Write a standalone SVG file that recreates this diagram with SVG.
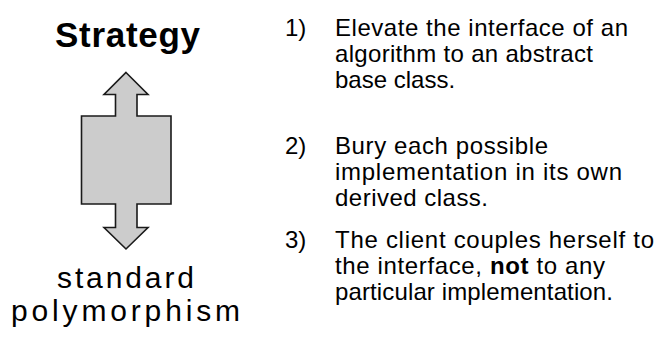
<svg xmlns="http://www.w3.org/2000/svg" width="657" height="345" viewBox="0 0 657 345">
  <style>
    .title { font-family: "Liberation Sans", Arial, sans-serif; font-size: 35px; font-weight: bold; fill: #000; }
    .sub { font-family: "Liberation Sans", Arial, sans-serif; font-size: 30px; fill: #000; }
    .body { font-family: "Liberation Sans", Arial, sans-serif; font-size: 24px; fill: #000; }
    .arrow { fill: #cccccc; stroke: #1a1a1a; stroke-width: 1.6; stroke-linejoin: miter; }
  </style>
  <rect width="657" height="345" fill="#ffffff"/>

  <g id="strategy-label">
    <text class="title" x="127.5" y="46.5" text-anchor="middle" textLength="145" lengthAdjust="spacing">Strategy</text>
  </g>

  <!-- double-headed block arrow between the two labels -->
  <g id="connectors">
    <polygon class="arrow" points="126,72.5 148,94.5 137,94.5 137,116 171,116 171,204 137,204 137,227.5 148,227.5 126,249 104,227.5 115.5,227.5 115.5,204 81.5,204 81.5,116 115.5,116 115.5,94.5 104,94.5"/>
  </g>

  <g id="polymorphism-label">
    <text class="sub" x="125.5" y="288" text-anchor="middle" textLength="137" lengthAdjust="spacing">standard</text>
    <text class="sub" x="125.5" y="321" text-anchor="middle" textLength="229" lengthAdjust="spacing">polymorphism</text>
  </g>

  <g id="step-1">
    <text class="body" x="285" y="35.5">1)</text>
    <text class="body" x="335" y="35.5" textLength="293" lengthAdjust="spacing">Elevate the interface of an</text>
    <text class="body" x="335" y="61.5" textLength="258" lengthAdjust="spacing">algorithm to an abstract</text>
    <text class="body" x="335" y="87.5">base class.</text>
  </g>

  <g id="step-2">
    <text class="body" x="285" y="154">2)</text>
    <text class="body" x="335" y="154" textLength="213" lengthAdjust="spacing">Bury each possible</text>
    <text class="body" x="335" y="180" textLength="287" lengthAdjust="spacing">implementation in its own</text>
    <text class="body" x="335" y="206" textLength="153" lengthAdjust="spacing">derived class.</text>
  </g>

  <g id="step-3">
    <text class="body" x="285" y="248">3)</text>
    <text class="body" x="335" y="248" textLength="319" lengthAdjust="spacing">The client couples herself to</text>
    <text class="body" x="335" y="274" textLength="270" lengthAdjust="spacing">the interface, <tspan font-weight="bold">not</tspan> to any</text>
    <text class="body" x="335" y="300" textLength="278" lengthAdjust="spacing">particular implementation.</text>
  </g>
</svg>
